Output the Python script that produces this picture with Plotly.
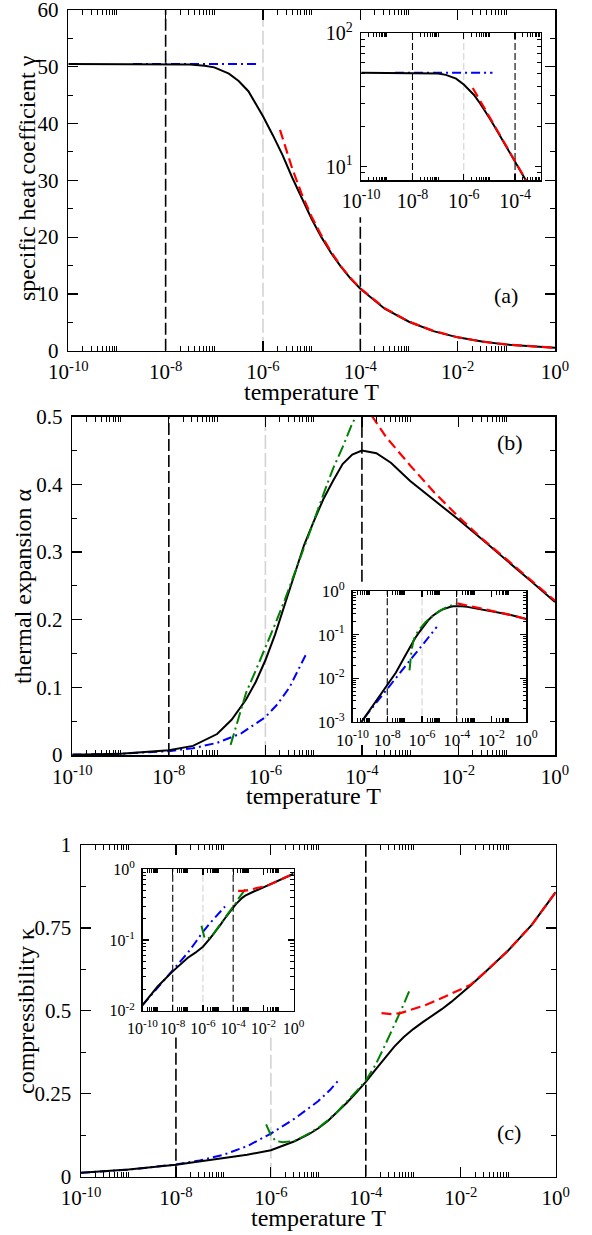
import plotly.graph_objects as go

FONT = "Liberation Serif, Times New Roman, serif"
W, H = 592, 1235

# ---------------- data (log10 T and values) ----------------
# panel (a): specific heat coefficient
a_black_logT = [-10, -9, -8, -7.5, -7.2, -7.0, -6.7, -6.5, -6.3, -6.0, -5.8, -5.6, -5.4, -5.2,
                -5.0, -4.8, -4.6, -4.4, -4.2, -4.0, -3.5, -3.0, -2.5, -2.0, -1.5, -1.0, -0.5, 0]
a_black_gamma = [50.5, 50.5, 50.5, 50.4, 50.2, 49.9, 48.8, 47.5, 45.7, 41.3, 38.0, 34.5, 30.5, 26.7,
                 23.2, 20.0, 17.2, 14.8, 12.7, 10.9, 7.4, 5.1, 3.45, 2.35, 1.6, 1.07, 0.74, 0.52]
a_red_logT = [-5.65, -5.5, -5.4, -5.2, -5.0, -4.8, -4.6, -4.4, -4.2, -4.0, -3.5, -3.0,
              -2.5, -2.0, -1.5, -1.0, -0.5, 0]
a_red_gamma = [38.9, 34.7, 32.1, 27.5, 23.6, 20.3, 17.4, 14.9, 12.8, 11.0, 7.5, 5.1,
               3.5, 2.37, 1.61, 1.1, 0.75, 0.51]
a_blue_logT = [-8.67, -6.12]
a_blue_gamma = [50.5, 50.5]
a_inset_blue_logT = [-8.68, -4.88]
a_inset_blue_gamma = [50.5, 50.5]

# panel (b): thermal expansion
b_black_logT = [-10, -9, -8, -7.5, -7.0, -6.7, -6.4, -6.2, -6.0, -5.8, -5.6, -5.4, -5.2, -5.0,
                -4.8, -4.6, -4.4, -4.2, -4.0, -3.7, -3.4, -3.0, -2.5, -2.0, -1.5, -1.0, -0.5, 0]
b_black_alpha = [0.0005, 0.0019, 0.007, 0.0135, 0.031, 0.052, 0.082, 0.108, 0.140, 0.178, 0.222,
                 0.267, 0.310, 0.345, 0.378, 0.405, 0.430, 0.444, 0.450, 0.446, 0.432, 0.405,
                 0.377, 0.348, 0.318, 0.288, 0.257, 0.226]
b_blue_logT = [-10, -9, -8, -7.5, -7, -6.5, -6, -5.75, -5.5, -5.15]
b_blue_alpha = [0.00056, 0.0018, 0.0056, 0.010, 0.018, 0.032, 0.056, 0.075, 0.10, 0.15]
b_green_logT = [-6.72, -6.6, -6.5, -6.4, -6.2, -6.0, -5.8, -5.6, -5.4, -5.2, -5.0, -4.8,
                -4.6, -4.4, -4.2, -4.05]
b_green_alpha = [0.015, 0.045, 0.070, 0.092, 0.125, 0.158, 0.193, 0.229, 0.267, 0.306, 0.345,
                 0.385, 0.423, 0.455, 0.49, 0.51]
b_red_logT = [-3.97, -3.5, -3.0, -2.5, -2.0, -1.5, -1.0, -0.5, 0]
b_red_alpha = [0.52, 0.47, 0.428, 0.388, 0.352, 0.319, 0.289, 0.258, 0.228]

# panel (c): compressibility
c_black_logT = [-10, -9, -8, -7, -6.5, -6, -5.5, -5.2, -5.0, -4.8, -4.6, -4.4, -4.2, -4.0, -3.8,
                -3.6, -3.4, -3.2, -3.0, -2.8, -2.6, -2.4, -2.2, -2.0, -1.8, -1.5, -1.0, -0.5, 0]
c_black_kappa = [0.012, 0.022, 0.036, 0.056, 0.066, 0.080, 0.107, 0.128, 0.146, 0.168, 0.194,
                 0.223, 0.254, 0.286, 0.322, 0.358, 0.392, 0.421, 0.445, 0.466, 0.485, 0.505,
                 0.527, 0.551, 0.576, 0.615, 0.682, 0.760, 0.858]
c_blue_logT = [-10, -9, -8, -7.5, -7, -6.5, -6, -5.5, -5, -4.75, -4.54]
c_blue_kappa = [0.012, 0.021, 0.037, 0.049, 0.066, 0.092, 0.13, 0.175, 0.228, 0.262, 0.296]
c_green_logT = [-6.1, -6.0, -5.9, -5.75, -5.5, -5.3, -5.0, -4.8, -4.6, -4.4, -4.2, -4.0,
                -3.8, -3.6, -3.4, -3.2, -3.07]
c_green_kappa = [0.158, 0.125, 0.108, 0.104, 0.108, 0.122, 0.147, 0.170, 0.196, 0.226, 0.257,
                 0.290, 0.336, 0.395, 0.455, 0.52, 0.565]
c_red_logT = [-3.67, -3.45, -3.27, -3.0, -2.75, -2.5, -2.25, -2.0, -1.8, -1.5, -1.0, -0.5, 0]
c_red_kappa = [0.493, 0.490, 0.493, 0.505, 0.517, 0.532, 0.548, 0.563, 0.578, 0.615, 0.682,
               0.760, 0.858]

# reference temperatures (vertical lines): log10 T, colour key, y-from, y-to
a_vlines = [(-8, "k", 0, 60), (-6, "g", 0, 60), (-4, "k", 0, 23.5)]
b_vlines = [(-8, "k", 0, 0.5), (-6, "g", 0, 0.5), (-4, "k", 0.256, 0.5)]
c_vlines = [(-8, "k", 0, 0.42), (-6, "g", 0, 0.42), (-4, "k", 0, 1)]
inset_vlines = [(-8, "k"), (-6, "g"), (-4, "k")]

# tick labels
x_major_exp = [-10, -8, -6, -4, -2, 0]
a_inset_x_exp = [-10, -8, -6, -4]
a_y_ticks = [0, 10, 20, 30, 40, 50, 60]
b_y_ticks = [0, 0.1, 0.2, 0.3, 0.4, 0.5]
b_y_text = ["0", "0.1", "0.2", "0.3", "0.4", "0.5"]
c_y_ticks = [0, 0.25, 0.5, 0.75, 1]
c_y_text = ["0", "0.25", "0.5", "0.75", "1"]

# ---------------- helpers ----------------
def T(lst):
    return [10 ** v for v in lst]


def px_x(a, b):
    return [a / W, b / W]


def px_y(top, bottom):
    return [1 - bottom / H, 1 - top / H]


COL = {"k": "black", "g": "#d3d3d3", "red": "#ff0000", "blue": "#0000ff", "green": "#008000"}

fig = go.Figure()


def add(logT, vals, ax, color, width=2, dash="solid"):
    fig.add_trace(go.Scatter(x=T(logT), y=vals, mode="lines",
                             line=dict(color=color, width=width, dash=dash),
                             xaxis="x" + ax, yaxis="y" + ax,
                             showlegend=False, hoverinfo="skip"))


def vline(e, key, y0, y1, ax, width, dash):
    fig.add_trace(go.Scatter(x=[10 ** e, 10 ** e], y=[y0, y1], mode="lines",
                             line=dict(color=COL[key], width=width, dash=dash),
                             xaxis="x" + ax, yaxis="y" + ax,
                             showlegend=False, hoverinfo="skip"))


def minor_log(exps, ks):
    return [k * 10 ** e for e in exps for k in ks]


def sup(e):
    return f"10<sup>{e}</sup>"


COMMON = dict(showline=True, linecolor="black", linewidth=1.5, mirror="allticks",
              showgrid=False, zeroline=False, automargin=False, tickangle=0,
              ticks="inside", tickwidth=1.2, tickcolor="black", tickmode="array")


def xlog(domain, anchor, rng, exps, size, mj, mn, standoff, minor_exps):
    return dict(type="log", domain=domain, anchor=anchor, range=rng,
                tickvals=T(exps), ticktext=[sup(e) for e in exps],
                ticklen=mj, ticklabelstandoff=standoff,
                tickfont=dict(family=FONT, size=size, color="black"),
                minor=dict(tickmode="array", tickvals=minor_log(minor_exps, range(2, 11)),
                           ticks="inside", ticklen=mn, tickwidth=1, tickcolor="black",
                           showgrid=False), **COMMON)


def ylin(domain, anchor, rng, vals, texts, minor_vals, size, standoff):
    return dict(type="linear", domain=domain, anchor=anchor, range=rng,
                tickvals=vals, ticktext=texts, ticklen=10, ticklabelstandoff=standoff,
                tickfont=dict(family=FONT, size=size, color="black"),
                minor=dict(tickmode="array", tickvals=minor_vals, ticks="inside",
                           ticklen=5, tickwidth=1, tickcolor="black", showgrid=False),
                **COMMON)


def ylog(domain, anchor, rng, exps, size, mj, mn, standoff):
    minor_exps = list(range(int(rng[0]) - 1, int(rng[1]) + 1))
    return dict(type="log", domain=domain, anchor=anchor, range=rng,
                tickvals=T(exps), ticktext=[sup(e) for e in exps],
                ticklen=mj, ticklabelstandoff=standoff,
                tickfont=dict(family=FONT, size=size, color="black"),
                minor=dict(tickmode="array", tickvals=minor_log(minor_exps, range(2, 10)),
                           ticks="inside", ticklen=mn, tickwidth=1, tickcolor="black",
                           showgrid=False), **COMMON)


MAIN_DASH_K = "12px,4px"
MAIN_DASH_G = "14px,4px"
INS_DASH = "7px,3px"
RED_DASH = "10px,5px"
BLUE_DASH = "9px,4px,2px,4px"
GREEN_DASH = "12px,4px,2px,4px"

# ---------------- panel (a) ----------------
for e, k, y0, y1 in a_vlines:
    vline(e, k, y0, y1, "", 1.6, MAIN_DASH_K if k == "k" else MAIN_DASH_G)
add(a_blue_logT, a_blue_gamma, "", COL["blue"], 2, BLUE_DASH)
add(a_black_logT, a_black_gamma, "", "black", 2)
add(a_red_logT, a_red_gamma, "", COL["red"], 2.2, RED_DASH)

for e, k in inset_vlines:
    vline(e, k, 1, 1000, "2", 1.1, INS_DASH)
add(a_inset_blue_logT, a_inset_blue_gamma, "2", COL["blue"], 2, BLUE_DASH)
add(a_black_logT, a_black_gamma, "2", "black", 2)
add(a_red_logT, a_red_gamma, "2", COL["red"], 2.2, RED_DASH)

# ---------------- panel (b) ----------------
for e, k, y0, y1 in b_vlines:
    vline(e, k, y0, y1, "3", 1.6, MAIN_DASH_K if k == "k" else MAIN_DASH_G)
add(b_blue_logT, b_blue_alpha, "3", COL["blue"], 2, BLUE_DASH)
add(b_black_logT, b_black_alpha, "3", "black", 2)
add(b_green_logT, b_green_alpha, "3", COL["green"], 2, GREEN_DASH)
add(b_red_logT, b_red_alpha, "3", COL["red"], 2.2, RED_DASH)

for e, k in inset_vlines:
    vline(e, k, 1e-4, 10, "4", 1.1, INS_DASH)
add(b_blue_logT, b_blue_alpha, "4", COL["blue"], 2, BLUE_DASH)
add(b_black_logT, b_black_alpha, "4", "black", 2)
add(b_green_logT, b_green_alpha, "4", COL["green"], 2, GREEN_DASH)
add(b_red_logT, b_red_alpha, "4", COL["red"], 2.2, RED_DASH)

# ---------------- panel (c) ----------------
for e, k, y0, y1 in c_vlines:
    vline(e, k, y0, y1, "5", 1.6, MAIN_DASH_K if k == "k" else MAIN_DASH_G)
add(c_blue_logT, c_blue_kappa, "5", COL["blue"], 2, BLUE_DASH)
add(c_black_logT, c_black_kappa, "5", "black", 2)
add(c_green_logT, c_green_kappa, "5", COL["green"], 2, GREEN_DASH)
add(c_red_logT, c_red_kappa, "5", COL["red"], 2.2, RED_DASH)

for e, k in inset_vlines:
    vline(e, k, 1e-3, 10, "6", 1.1, INS_DASH)
add(c_blue_logT, c_blue_kappa, "6", COL["blue"], 2, BLUE_DASH)
add(c_black_logT, c_black_kappa, "6", "black", 2)
add(c_green_logT, c_green_kappa, "6", COL["green"], 2, GREEN_DASH)
add(c_red_logT, c_red_kappa, "6", COL["red"], 2.2, RED_DASH)

# ---------------- layout ----------------
main_minor_exps = [-10, -8, -6, -4, -2]
layout = dict(
    width=W, height=H, margin=dict(l=0, r=0, t=0, b=0, pad=0, autoexpand=False),
    paper_bgcolor="white", plot_bgcolor="white", showlegend=False,
    font=dict(family=FONT, color="black"),
    # panel a
    xaxis=xlog(px_x(68.3, 555), "y", [-10, 0], x_major_exp, 21, 10, 5, 2, main_minor_exps),
    yaxis=ylin(px_y(10, 350.7), "x", [0, 60], a_y_ticks, [str(v) for v in a_y_ticks],
               [5, 15, 25, 35, 45, 55], 21, 4),
    xaxis2=xlog(px_x(361.2, 540.7), "y2", [-10, -3], a_inset_x_exp, 20, 6, 3.5, 2,
                [-10, -8, -6, -4]),
    yaxis2=ylog(px_y(33.3, 180), "x2", [0.9, 2], [1, 2], 20, 6, 3.5, 3),
    # panel b
    xaxis3=xlog(px_x(72.3, 555), "y3", [-10, 0], x_major_exp, 21, 10, 5, 2, main_minor_exps),
    yaxis3=ylin(px_y(416.7, 755), "x3", [0, 0.5], b_y_ticks, b_y_text,
                [0.05, 0.15, 0.25, 0.35, 0.45], 21, 4),
    xaxis4=xlog(px_x(352.5, 526.3), "y4", [-10, 0], x_major_exp, 17, 6, 3.5, 2, main_minor_exps),
    yaxis4=ylog(px_y(591, 721.7), "x4", [-3, 0], [-3, -2, -1, 0], 17, 6, 3.5, 3),
    # panel c
    xaxis5=xlog(px_x(81, 555.7), "y5", [-10, 0], x_major_exp, 21, 10, 5, 2, main_minor_exps),
    yaxis5=ylin(px_y(845, 1176.7), "x5", [0, 1], c_y_ticks, c_y_text,
                [0.125, 0.375, 0.625, 0.875], 21, 4),
    xaxis6=xlog(px_x(142.5, 293.6), "y6", [-10, 0], x_major_exp, 16, 6, 3.5, 2, main_minor_exps),
    yaxis6=ylog(px_y(869, 1010.8), "x6", [-2, 0], [-2, -1, 0], 16, 6, 3.5, 3),
)
fig.update_layout(**layout)

# titles and panel labels
def ann(text, x, y, size, angle=0):
    fig.add_annotation(text=text, x=x / W, y=1 - y / H, xref="paper", yref="paper",
                       showarrow=False, textangle=angle,
                       font=dict(family=FONT, size=size, color="black"),
                       xanchor="center", yanchor="middle")


ann("specific heat coefficient γ", 27, 178, 24, -90)
ann("temperature T", 311.7, 392, 24)
ann("(a)", 506, 295, 22)
ann("thermal expansion α", 23, 586, 24, -90)
ann("temperature T", 313.7, 796, 24)
ann("(b)", 510, 442, 22)
ann("compressibility κ", 26, 1011, 24, -90)
ann("temperature T", 318.3, 1218, 24)
ann("(c)", 509, 1132, 22)

fig.write_html("out.html",
               config={"displayModeBar": False, "staticPlot": True},
               post_script="document.body.style.margin='0px';"
                           "document.body.style.padding='0px';"
                           "document.documentElement.style.overflow='hidden';")
